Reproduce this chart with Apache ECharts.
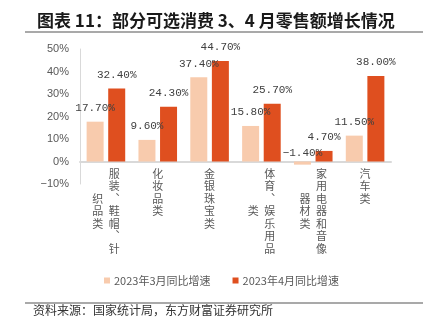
<!DOCTYPE html>
<html>
<head>
<meta charset="utf-8">
<script src="https://cdn.jsdelivr.net/npm/echarts@6/dist/echarts.min.js"></script>
<style>html,body{margin:0;padding:0;background:#fff}#c{width:430px;height:329px}</style>
</head>
<body>
<div id="c"></div>
<script>
var categories = ['服装、鞋帽、针织品类', '化妆品类', '金银珠宝类', '体育、娱乐用品类', '家用电器和音像器材类', '汽车类'];
var seriesNames = ['2023年3月同比增速', '2023年4月同比增速'];
var march = [17.7, 9.6, 37.4, 15.8, -1.4, 11.5];
var april = [32.4, 24.3, 44.7, 25.7, 4.7, 38.0];
var yMin = -10, yMax = 50, yStep = 10;

var gridTop = 49, gridBottom = 145, chartH = 329;
var plotH = chartH - gridTop - gridBottom;
// labels sit just under the zero line
var zeroFromBottom = plotH * (0 - yMin) / (yMax - yMin);

var colLen = 7;
function verticalLabel(name) {
  var chars = Array.from(name).map(function (c) { return c === '、' ? '︑' : c; });
  var col1 = chars.slice(0, colLen);
  var col2 = chars.slice(colLen);
  var rows = [];
  var off = Math.floor((col1.length - col2.length) / 2);
  for (var i = 0; i < col1.length; i++) {
    if (col2.length) {
      var j = i - off;
      var c2 = (j >= 0 && j < col2.length) ? col2[j] : '　';
      rows.push('{c|' + c2 + '}{c|' + col1[i] + '}');
    } else {
      rows.push('{c|' + col1[i] + '}');
    }
  }
  return rows.join('\n');
}

function pct(v) { return (v < 0 ? '−' : '') + Math.abs(v).toFixed(2) + '%'; }
function mk(vals) {
  return vals.map(function (v) { return v < 0 ? { value: v, label: { distance: 3 } } : v; });
}

var valueLabel = {
  show: true, position: 'top', distance: 8,
  fontFamily: 'Liberation Mono', fontSize: 11, color: '#404040',
  formatter: function (p) { return pct(p.value); }
};

var chart = echarts.init(document.getElementById('c'));
chart.setOption({
  animation: false,
  title: {
    text: '图表 11：部分可选消费 3、4 月零售额增长情况',
    left: 32, top: 7,
    textStyle: { fontFamily: 'Noto Sans CJK SC', fontSize: 17, fontWeight: 'bold', color: '#1a1a1a' }
  },
  graphic: [
    { type: 'line', shape: { x1: 25, y1: 32, x2: 423, y2: 32 }, style: { stroke: '#8c8c8c', lineWidth: 1.5 } },
    { type: 'line', shape: { x1: 25, y1: 303, x2: 423, y2: 303 }, style: { stroke: '#8c8c8c', lineWidth: 1.5 } },
    { type: 'text', left: 33, top: 304, style: { text: '资料来源：国家统计局，东方财富证券研究所', fontFamily: 'Noto Sans CJK SC', fontSize: 12, fill: '#333' } }
  ],
  legend: {
    left: 99, top: 270,
    itemWidth: 6, itemHeight: 6, itemGap: 22,
    icon: 'rect',
    textStyle: { fontFamily: 'Noto Sans CJK SC', fontSize: 11, color: '#595959', padding: [0, 0, 0, -1] },
    data: seriesNames
  },
  grid: { left: 80, right: 39, top: gridTop, bottom: gridBottom },
  xAxis: {
    type: 'category',
    data: categories,
    axisLine: { onZero: true, lineStyle: { color: '#d9d9d9', width: 2 } },
    axisTick: { show: false },
    axisLabel: {
      interval: 0, margin: 6 - zeroFromBottom,
      formatter: verticalLabel,
      rich: { c: { width: 16.5, align: 'center', fontFamily: 'Noto Sans CJK SC', fontSize: 11, lineHeight: 12.5, color: '#595959' } }
    }
  },
  yAxis: {
    type: 'value', min: yMin, max: yMax, interval: yStep,
    axisLine: { show: true, lineStyle: { color: '#d9d9d9', width: 1 } },
    axisTick: { show: false },
    splitLine: { show: false },
    axisLabel: {
      margin: 11, fontFamily: 'Liberation Sans', fontSize: 11, color: '#595959',
      formatter: function (v) { return (v < 0 ? '−' : '') + Math.abs(v) + '%'; }
    }
  },
  series: [
    { name: seriesNames[0], type: 'bar', data: mk(march), barWidth: 17, barGap: '27%', itemStyle: { color: '#F8CBAD' }, label: valueLabel },
    { name: seriesNames[1], type: 'bar', data: mk(april), barWidth: 17, barGap: '27%', itemStyle: { color: '#DF4F1F' }, label: valueLabel }
  ]
});
</script>
</body>
</html>
